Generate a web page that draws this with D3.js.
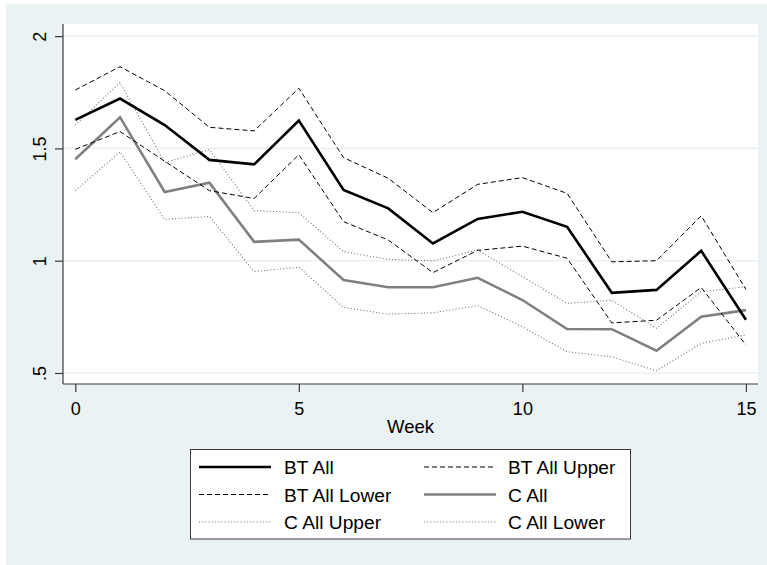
<!DOCTYPE html>
<html>
<head>
<meta charset="utf-8">
<script src="https://cdn.jsdelivr.net/npm/d3@7"></script>
<style>
  html, body { margin: 0; padding: 0; background: #ffffff; }
  svg { display: block; font-family: "Liberation Sans", Arial, sans-serif; }
</style>
</head>
<body>
<svg id="chart" width="767" height="565"></svg>
<script>
// Weekly estimates with confidence bounds for the two groups
const weeks = d3.range(0, 16);
const btAll   = [1.627, 1.722, 1.604, 1.449, 1.429, 1.624, 1.315, 1.233, 1.077, 1.186, 1.218, 1.151, 0.857, 0.870, 1.044, 0.737];
const btUpper = [1.760, 1.864, 1.757, 1.594, 1.578, 1.768, 1.459, 1.367, 1.214, 1.340, 1.370, 1.300, 0.995, 1.000, 1.200, 0.872];
const btLower = [1.496, 1.575, 1.443, 1.312, 1.277, 1.472, 1.174, 1.092, 0.947, 1.046, 1.065, 1.011, 0.723, 0.735, 0.881, 0.625];
const cAll    = [1.452, 1.639, 1.306, 1.347, 1.084, 1.094, 0.914, 0.882, 0.882, 0.924, 0.825, 0.696, 0.695, 0.599, 0.751, 0.780];
const cUpper  = [1.604, 1.793, 1.437, 1.495, 1.223, 1.214, 1.040, 1.006, 0.999, 1.048, 0.929, 0.810, 0.824, 0.699, 0.862, 0.884];
const cLower  = [1.312, 1.484, 1.184, 1.197, 0.952, 0.971, 0.792, 0.762, 0.768, 0.800, 0.706, 0.595, 0.572, 0.510, 0.632, 0.669];

const xTicks = [0, 5, 10, 15];
const yTicks = [0.5, 1, 1.5, 2];
const yTickLabels = [".5", "1", "1.5", "2"];
const xTitle = "Week";

const seriesNames = ["BT All", "BT All Upper", "BT All Lower", "C All", "C All Upper", "C All Lower"];
const seriesValues = [btAll, btUpper, btLower, cAll, cUpper, cLower];
const seriesStyles = [
  { color: "#000000", width: 2.6, dash: null },
  { color: "#000000", width: 1.0, dash: "5,3" },
  { color: "#000000", width: 1.0, dash: "5,3" },
  { color: "#808080", width: 2.6, dash: null },
  { color: "#6e6e6e", width: 1.1, dash: "1,2.2" },
  { color: "#6e6e6e", width: 1.1, dash: "1,2.2" }
];

const svg = d3.select("#chart");
const bg = "#EAF2F3";

// outer graph region
svg.append("rect").attr("x", 6).attr("y", 4).attr("width", 761).attr("height", 561).attr("fill", bg);

const plot = { left: 63, right: 758, top: 24, bottom: 384 };
svg.append("rect")
  .attr("x", plot.left).attr("y", plot.top)
  .attr("width", plot.right - plot.left).attr("height", plot.bottom - plot.top)
  .attr("fill", "#ffffff");

const x = d3.scaleLinear().domain([-0.275, 15.27]).range([plot.left, plot.right]);
const y = d3.scaleLinear().domain([0.451, 2.054]).range([plot.bottom, plot.top]);

// horizontal grid
svg.append("g").selectAll("line").data(yTicks).join("line")
  .attr("x1", plot.left).attr("x2", plot.right)
  .attr("y1", d => y(d)).attr("y2", d => y(d))
  .attr("stroke", bg).attr("stroke-width", 1.6);

// series lines
const line = d3.line().x((d, i) => x(weeks[i])).y(d => y(d));
const drawOrder = [4, 5, 3, 1, 2, 0];
drawOrder.forEach(k => {
  const s = seriesStyles[k];
  svg.append("path")
    .datum(seriesValues[k])
    .attr("d", line)
    .attr("fill", "none")
    .attr("stroke", s.color)
    .attr("stroke-width", s.width)
    .attr("stroke-linejoin", "miter")
    .attr("stroke-dasharray", s.dash);
});

// axes
const axisColor = "#3a3a3a";
const yAxis = d3.axisLeft(y).tickValues(yTicks).tickSize(8).tickPadding(0)
  .tickFormat((d, i) => yTickLabels[i]);
const gy = svg.append("g").attr("transform", `translate(${plot.left},0)`).call(yAxis);
gy.select(".domain").attr("stroke", axisColor).attr("stroke-width", 1.2)
  .attr("d", `M0,${plot.top}V${plot.bottom}`);
gy.selectAll(".tick line").attr("stroke", axisColor).attr("stroke-width", 1.2);
gy.selectAll(".tick text")
  .attr("x", null).attr("dy", null)
  .attr("transform", "translate(-17,0) rotate(-90)")
  .attr("text-anchor", "middle")
  .attr("fill", "#000")
  .style("font-size", "18px");

const xAxis = d3.axisBottom(x).tickValues(xTicks).tickSize(8).tickPadding(0).tickFormat(d3.format("d"));
const gx = svg.append("g").attr("transform", `translate(0,${plot.bottom})`).call(xAxis);
gx.select(".domain").attr("stroke", axisColor).attr("stroke-width", 1.2)
  .attr("d", `M${plot.left},0H${plot.right}`);
gx.selectAll(".tick line").attr("stroke", axisColor).attr("stroke-width", 1.2);
gx.selectAll(".tick text")
  .attr("y", 31).attr("dy", null)
  .attr("fill", "#000")
  .style("font-size", "18px");

svg.append("text")
  .attr("x", (plot.left + plot.right) / 2).attr("y", 433)
  .attr("text-anchor", "middle")
  .style("font-size", "18.5px")
  .text(xTitle);

// legend
const lg = svg.append("g");
lg.append("rect")
  .attr("x", 190.5).attr("y", 449.5).attr("width", 440).attr("height", 89.5)
  .attr("fill", "#ffffff").attr("stroke", axisColor).attr("stroke-width", 1);

const rowY = [467, 494.5, 522];
const colLineX = [199, 424];
const colTextX = [284, 508];
seriesNames.forEach((name, k) => {
  const col = k % 2, row = Math.floor(k / 2);
  const s = seriesStyles[k];
  lg.append("line")
    .attr("x1", colLineX[col]).attr("x2", colLineX[col] + 72)
    .attr("y1", rowY[row]).attr("y2", rowY[row])
    .attr("stroke", s.color).attr("stroke-width", s.width)
    .attr("stroke-dasharray", s.dash);
  lg.append("text")
    .attr("x", colTextX[col]).attr("y", rowY[row] + 7)
    .style("font-size", "19.2px")
    .text(name);
});
</script>
</body>
</html>
